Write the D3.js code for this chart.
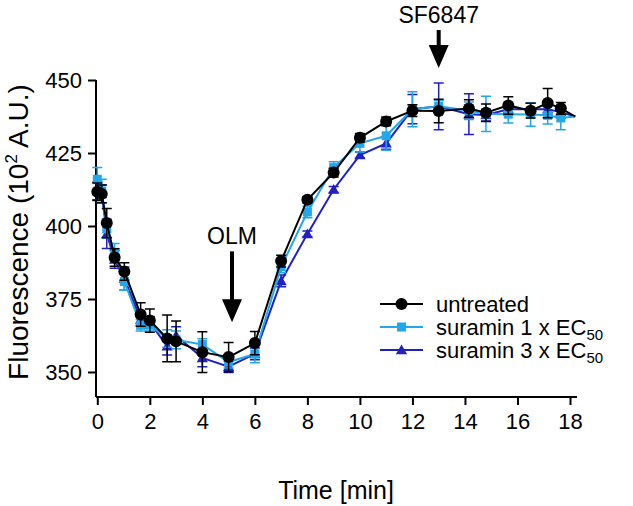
<!DOCTYPE html>
<html><head><meta charset="utf-8">
<script src="https://cdn.jsdelivr.net/npm/d3@7"></script>
<style>body{margin:0;background:#fff}svg{display:block}text{font-family:"Liberation Sans",Arial,sans-serif;fill:#000}</style>
</head><body><svg id="c" width="633" height="506"></svg>
<script>
const times = [0,0.17,0.36,0.66,1.03,1.65,2.0,2.66,3.0,4.0,5.0,6.0,7.0,8.0,9.0,10.0,11.0,12.0,13.0,14.15,14.8,15.65,16.5,17.15,17.65,18.2];
const untreated = [411.7,411.0,401,389.2,384.4,369.7,367.6,361.5,360.5,356.8,355.1,359.9,388,409,418.3,430.2,435.8,439.5,439.4,440.2,438.8,441.3,439.5,442.1,440.3,437.5];
const untreatedErr = [3,3,5,3,3,4,4,8,7,7,5,4,2,1,1.5,1.5,1.5,2,4,3,3,3,2.5,5,2,0];
const suramin1 = [416,412,399,391,381,366,366,361.5,361,359.4,353.4,356.2,386,404.8,420,428.3,430.9,440,441,439.5,438.4,438.3,438.2,437.9,437,437.5];
const suramin1Err = [4,4,3,3,3,2,2,3,3,2,2,3,2,2,2,3,5,6,2,3,6,3,4,3,4,0];
const suramin3 = [412,411,397.3,388.5,382,368,367,358.8,362.5,354.8,351.8,356.2,381.2,397.3,412.5,424.3,428.3,440,441,438.3,438,440,440,440,439,437.5];
const suramin3Err = [3,3,5,3,4,2,2,3,3,3,2,2,2,1,1,1,2,5,8,7,2,2,2,2,2,0];
const xTicks = [0,2,4,6,8,10,12,14,16,18];
const yTicks = [350,375,400,425,450];
const seriesNames = ["untreated","suramin 1 x EC","suramin 3 x EC"];
const seriesColors = ["#000000","#22a6ec","#2020c4"];
const seriesShapes = ["circle","square","triangle"];
const annotations = [{label:"OLM", t:5.13, y:367, len:71}, {label:"SF6847", t:13.0, y:454.1, len:38}];

const svg = d3.select("#c");
const x = d3.scaleLinear().domain([0,18]).range([97.3,570]);
const y = d3.scaleLinear().domain([350,450]).range([372,80]);
const xAxisY = 397;
const FONT = "Liberation Sans, Arial, sans-serif";

const ya = svg.append("g").attr("transform","translate(96,0)")
  .call(d3.axisLeft(y).tickValues(yTicks).tickSize(8).tickPadding(6));
ya.select(".domain").attr("d",`M0,${y(450)}V${xAxisY}`).attr("stroke-width",2);
ya.selectAll(".tick line").attr("stroke-width",2);
ya.selectAll(".tick text").style("font-size","22px").attr("font-family",FONT);

const xa = svg.append("g").attr("transform",`translate(0,${xAxisY})`)
  .call(d3.axisBottom(x).tickValues(xTicks).tickSize(8).tickPadding(8));
xa.select(".domain").attr("d",`M96,0H577`).attr("stroke-width",2);
xa.selectAll(".tick line").attr("stroke-width",2);
xa.selectAll(".tick text").style("font-size","22px").attr("font-family",FONT);

svg.append("text").attr("x",336).attr("y",499).attr("text-anchor","middle").style("font-size","25px").text("Time [min]");
const yl = svg.append("text").attr("transform","translate(28,232) rotate(-90)").attr("text-anchor","middle").style("font-size","28px");
yl.append("tspan").text("Fluorescence (10");
yl.append("tspan").attr("dy",-11).style("font-size","17px").text("2");
yl.append("tspan").attr("dy",11).text(" A.U.)");

const allSeries = [untreated, suramin1, suramin3];
const allErr = [untreatedErr, suramin1Err, suramin3Err];
const order = [2,1,0];
const line = d3.line().x(d=>x(d[0])).y(d=>y(d[1]));

function marker(g, shape, color, cx, cy){
  if(shape==="circle") g.append("circle").attr("cx",cx).attr("cy",cy).attr("r",6).attr("fill",color);
  else if(shape==="square") g.append("rect").attr("x",cx-4.5).attr("y",cy-4.5).attr("width",9).attr("height",9).attr("fill",color);
  else g.append("path").attr("d",d3.symbol(d3.symbolTriangle,55)()).attr("transform",`translate(${cx},${cy+1})`).attr("fill",color);
}

order.forEach(i=>{
  const vals = allSeries[i], errs = allErr[i], col = seriesColors[i];
  const g = svg.append("g");
  const pts = times.map((t,j)=>[t,vals[j]]);
  pts.forEach((p,j)=>{
    if(!errs[j]) return;
    const cx = x(p[0]), y1 = y(p[1]-errs[j]), y2 = y(p[1]+errs[j]);
    g.append("path").attr("d",`M${cx},${y1}V${y2}M${cx-5},${y1}H${cx+5}M${cx-5},${y2}H${cx+5}`)
      .attr("stroke",col).attr("stroke-width",1.5).attr("fill","none");
  });
  g.append("path").datum(pts).attr("d",line).attr("fill","none").attr("stroke",col).attr("stroke-width",2);
  pts.forEach((p,j)=>{ if(p[0]<=18) marker(g, seriesShapes[i], col, x(p[0]), y(p[1])); });
});

annotations.forEach(a=>{
  const cx = x(a.t);
  const tip = y(a.y);
  const g = svg.append("g");
  g.append("path").attr("d",`M${cx},${tip-a.len}V${tip-20}`).attr("stroke","#000").attr("stroke-width",4);
  g.append("path").attr("d",`M${cx-10},${tip-23}L${cx+10},${tip-23}L${cx},${tip}Z`).attr("fill","#000");
  g.append("text").attr("x",cx).attr("y",tip-a.len-7).attr("text-anchor","middle").style("font-size","23px").text(a.label);
});

const lg = svg.append("g");
[0,1,2].forEach(i=>{
  const yy = 304 + i*23;
  lg.append("path").attr("d",`M380,${yy}H423`).attr("stroke",seriesColors[i]).attr("stroke-width",2);
  marker(lg, seriesShapes[i], seriesColors[i], 401.5, yy);
  const t = lg.append("text").attr("x",436).attr("y",yy+8).style("font-size","22px");
  t.append("tspan").text(seriesNames[i]);
  if(i>0) t.append("tspan").attr("dy",5).style("font-size","15px").text("50");
});
</script></body></html>
